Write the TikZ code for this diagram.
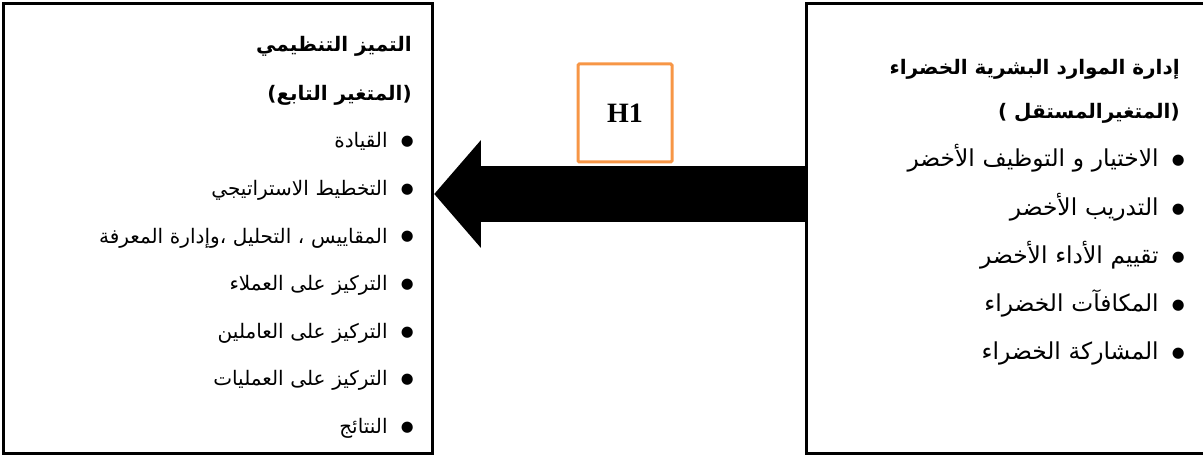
\documentclass[tikz,border=0pt]{standalone}
\usepackage{fontspec}
\setmainfont{Liberation Serif}
\newfontfamily\arabicfont[Script=Arabic]{DejaVu Sans}
\TeXXeTstate=1
\usetikzlibrary{positioning, arrows.meta}
\definecolor{hborder}{HTML}{F79646}

\newcommand{\bul}[1]{\beginR\raisebox{1.6pt}{\fontsize{11}{11}\selectfont ●}\hspace{10pt}#1\endR}

\tikzset{
    varbox/.style={draw, line width=2.25pt, minimum height=338pt},
    head/.style={font=\arabicfont\bfseries\fontsize{15}{17}\selectfont, inner sep=0pt, anchor=east},
    item/.style={font=\arabicfont\fontsize{15}{17}\selectfont, text width=300pt, align=right,
                 inner sep=0pt, text height=11pt, text depth=5pt},
    bigitem/.style={item, font=\arabicfont\fontsize{17.5}{19}\selectfont},
}

\begin{document}
\begin{tikzpicture}[x=0.75pt, y=-0.75pt]
        \useasboundingbox (0,0) rectangle (1203,456);

        % the two boxes
        \node[varbox, minimum width=321.75pt](dep) at (217.5,228.5){};
        \node[varbox, minimum width=300pt](ind) at (1006,228.5){};

        % dependent variable
        \node[head](dt1) at (412,46){\beginR التميز التنظيمي\endR};
        \node[head](dt2) at (412,95){\beginR (المتغير التابع)\endR};
        \node[item, anchor=east](d1) at (414,144){\bul{القيادة}};
        \node[item](d2)[below = 19.25pt of d1]{\bul{التخطيط الاستراتيجي}};
        \node[item](d3)[below = 19.25pt of d2]{\bul{المقاييس ، التحليل ،وإدارة المعرفة}};
        \node[item](d4)[below = 19.25pt of d3]{\bul{التركيز على العملاء}};
        \node[item](d5)[below = 19.25pt of d4]{\bul{التركيز على العاملين}};
        \node[item](d6)[below = 19.25pt of d5]{\bul{التركيز على العمليات}};
        \node[item](d7)[below = 19.25pt of d6]{\bul{النتائج}};

        % independent variable
        \node[head](it1) at (1180,69){\beginR إدارة الموارد البشرية الخضراء\endR};
        \node[head](it2) at (1180,113){\beginR (المتغيرالمستقل )\endR};
        \node[bigitem, anchor=east](i1) at (1185,163){\bul{الاختيار و التوظيف الأخضر}};
        \node[bigitem](i2)[below = 19.75pt of i1]{\bul{التدريب الأخضر}};
        \node[bigitem](i3)[below = 19.75pt of i2]{\bul{تقييم الأداء الأخضر}};
        \node[bigitem](i4)[below = 19.75pt of i3]{\bul{المكافآت الخضراء}};
        \node[bigitem](i5)[below = 19.75pt of i4]{\bul{المشاركة الخضراء}};

        % hypothesis
        \node[draw=hborder, line width=2.25pt, rounded corners=1pt, minimum width=70.5pt, minimum height=73.5pt,
              font=\bfseries\fontsize{21}{23}\selectfont](h1) at (625,113){H1};

        \coordinate (from) at (ind.west |- 0,194);
        \coordinate (to) at (dep.east |- 0,194);
        \draw[line width=42pt, -{Triangle[length=35pt, width=78.75pt]}, shorten >=0.5pt] (from) -- (to);
\end{tikzpicture}
\end{document}
